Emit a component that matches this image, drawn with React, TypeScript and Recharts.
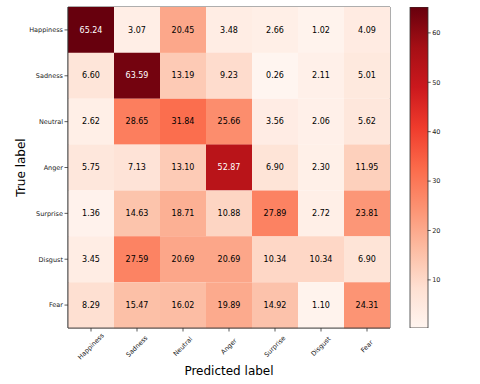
import React from 'react';
import { BarChart, Bar, XAxis, YAxis, Cell, LabelList, ReferenceArea } from 'recharts';

const labels = ['Happiness', 'Sadness', 'Neutral', 'Anger', 'Surprise', 'Disgust', 'Fear'];
const rowHappiness = [65.24, 3.07, 20.45, 3.48, 2.66, 1.02, 4.09];
const rowSadness = [6.6, 63.59, 13.19, 9.23, 0.26, 2.11, 5.01];
const rowNeutral = [2.62, 28.65, 31.84, 25.66, 3.56, 2.06, 5.62];
const rowAnger = [5.75, 7.13, 13.1, 52.87, 6.9, 2.3, 11.95];
const rowSurprise = [1.36, 14.63, 18.71, 10.88, 27.89, 2.72, 23.81];
const rowDisgust = [3.45, 27.59, 20.69, 20.69, 10.34, 10.34, 6.9];
const rowFear = [8.29, 15.47, 16.02, 19.89, 14.92, 1.1, 24.31];
const matrix = [rowHappiness, rowSadness, rowNeutral, rowAnger, rowSurprise, rowDisgust, rowFear];
const colorbarTicks = [10, 20, 30, 40, 50, 60];

const VMIN = 0.26;
const VMAX = 65.24;
const REDS = ['#fff5f0', '#fee0d2', '#fcbba1', '#fc9272', '#fb6a4a', '#ef3b2c', '#cb181d', '#a50f15', '#67000d'];

const hex = (h: string) => [1, 3, 5].map((i) => parseInt(h.slice(i, i + 2), 16));
function reds(v: number) {
  const t = Math.max(0, Math.min(1, (v - VMIN) / (VMAX - VMIN)));
  const p = t * (REDS.length - 1);
  const i = Math.min(REDS.length - 2, Math.floor(p));
  const f = p - i;
  const a = hex(REDS[i]);
  const b = hex(REDS[i + 1]);
  const c = a.map((x, k) => Math.round(x + (b[k] - x) * f));
  return `rgb(${c[0]},${c[1]},${c[2]})`;
}

const data = labels.map((name, r) => {
  const o: any = { name };
  matrix[r].forEach((v, c) => {
    o[`w${c}`] = 1;
    o[`v${c}`] = v;
  });
  return o;
});

const cbData = [{ k: 'cb', range: [VMIN, VMAX] }];
const FONT = 'DejaVu Sans, sans-serif';
const THRESH = (VMIN + VMAX) / 2;

const XTick = (props: any) => {
  const { x, y, payload } = props;
  const name = labels[Math.round(payload.value - 0.5)];
  const cy = y + 13;
  return (
    <text
      x={x}
      y={cy}
      transform={`rotate(-45 ${x} ${cy})`}
      textAnchor="middle"
      dominantBaseline="central"
      fontSize={6.5}
      fontFamily={FONT}
      fill="#222"
    >
      {name}
    </text>
  );
};

export default function App() {
  return (
    <div style={{ position: 'absolute', left: 0, top: 0, width: 480, height: 384, background: '#fff' }}>
      <div style={{ position: 'absolute', left: 0, top: 0 }}>
        <BarChart
          width={480}
          height={384}
          data={data}
          layout="vertical"
          margin={{ top: 7, right: 90, left: 0, bottom: 0 }}
          barCategoryGap={0}
          barGap={0}
        >
          <XAxis
            type="number"
            domain={[0, 7]}
            ticks={[0.5, 1.5, 2.5, 3.5, 4.5, 5.5, 6.5]}
            height={56}
            tick={<XTick />}
            tickSize={3.5}
            stroke="#333"
            strokeWidth={0.8}
            interval={0}
            label={{
              content: (p: any) => (
                <text
                  x={p.viewBox.x + p.viewBox.width / 2}
                  y={p.viewBox.y + 43}
                  textAnchor="middle"
                  dominantBaseline="central"
                  fontSize={12}
                  fontFamily={FONT}
                  fill="#000"
                >
                  Predicted label
                </text>
              ),
            }}
          />
          <YAxis
            type="category"
            dataKey="name"
            width={68}
            tickSize={3.5}
            tickMargin={1.5}
            stroke="#333"
            strokeWidth={0.8}
            interval={0}
            tick={{ fontSize: 6.5, fontFamily: FONT, fill: '#222' }}
            label={{
              content: (p: any) => {
                const cx = 21;
                const cy = p.viewBox.y + p.viewBox.height / 2;
                return (
                  <text
                    x={cx}
                    y={cy}
                    transform={`rotate(-90 ${cx} ${cy})`}
                    textAnchor="middle"
                    dominantBaseline="central"
                    fontSize={12}
                    fontFamily={FONT}
                    fill="#000"
                  >
                    True label
                  </text>
                );
              },
            }}
          />
          {labels.map((_, c) => (
            <Bar key={c} dataKey={`w${c}`} stackId="a" isAnimationActive={false}>
              {data.map((row, r) => (
                <Cell key={r} fill={reds(row[`v${c}`])} />
              ))}
              <LabelList
                dataKey={`v${c}`}
                content={(p: any) => {
                  const v = Number(p.value);
                  return (
                    <text
                      x={p.x + p.width / 2}
                      y={p.y + p.height / 2}
                      textAnchor="middle"
                      dominantBaseline="central"
                      fontSize={8}
                      fontFamily={FONT}
                      fill={v > THRESH ? '#fff' : '#000'}
                    >
                      {v.toFixed(2)}
                    </text>
                  );
                }}
              />
            </Bar>
          ))}
          <ReferenceArea x1={0} x2={7} fill="none" stroke="#333" strokeWidth={0.8} ifOverflow="visible" />
        </BarChart>
      </div>
      <div style={{ position: 'absolute', left: 0, top: 0 }}>
        <BarChart
          width={480}
          height={384}
          data={cbData}
          margin={{ top: 7, right: 22, left: 410, bottom: 56 }}
          barCategoryGap={0}
        >
          <defs>
            <linearGradient id="redsGrad" x1="0" y1="1" x2="0" y2="0">
              {REDS.map((c, i) => (
                <stop key={i} offset={`${(i / (REDS.length - 1)) * 100}%`} stopColor={c} />
              ))}
            </linearGradient>
          </defs>
          <XAxis dataKey="k" hide />
          <YAxis
            orientation="right"
            type="number"
            domain={[VMIN, VMAX]}
            ticks={colorbarTicks}
            width={30.3}
            tickSize={3}
            tickMargin={1.5}
            axisLine={false}
            stroke="#333"
            strokeWidth={0.8}
            tick={{ fontSize: 6.5, fontFamily: FONT, fill: '#222', textAnchor: 'start' }}
            allowDataOverflow
          />
          <Bar dataKey="range" fill="url(#redsGrad)" stroke="#333" strokeWidth={0.8} isAnimationActive={false} />
        </BarChart>
      </div>
    </div>
  );
}
